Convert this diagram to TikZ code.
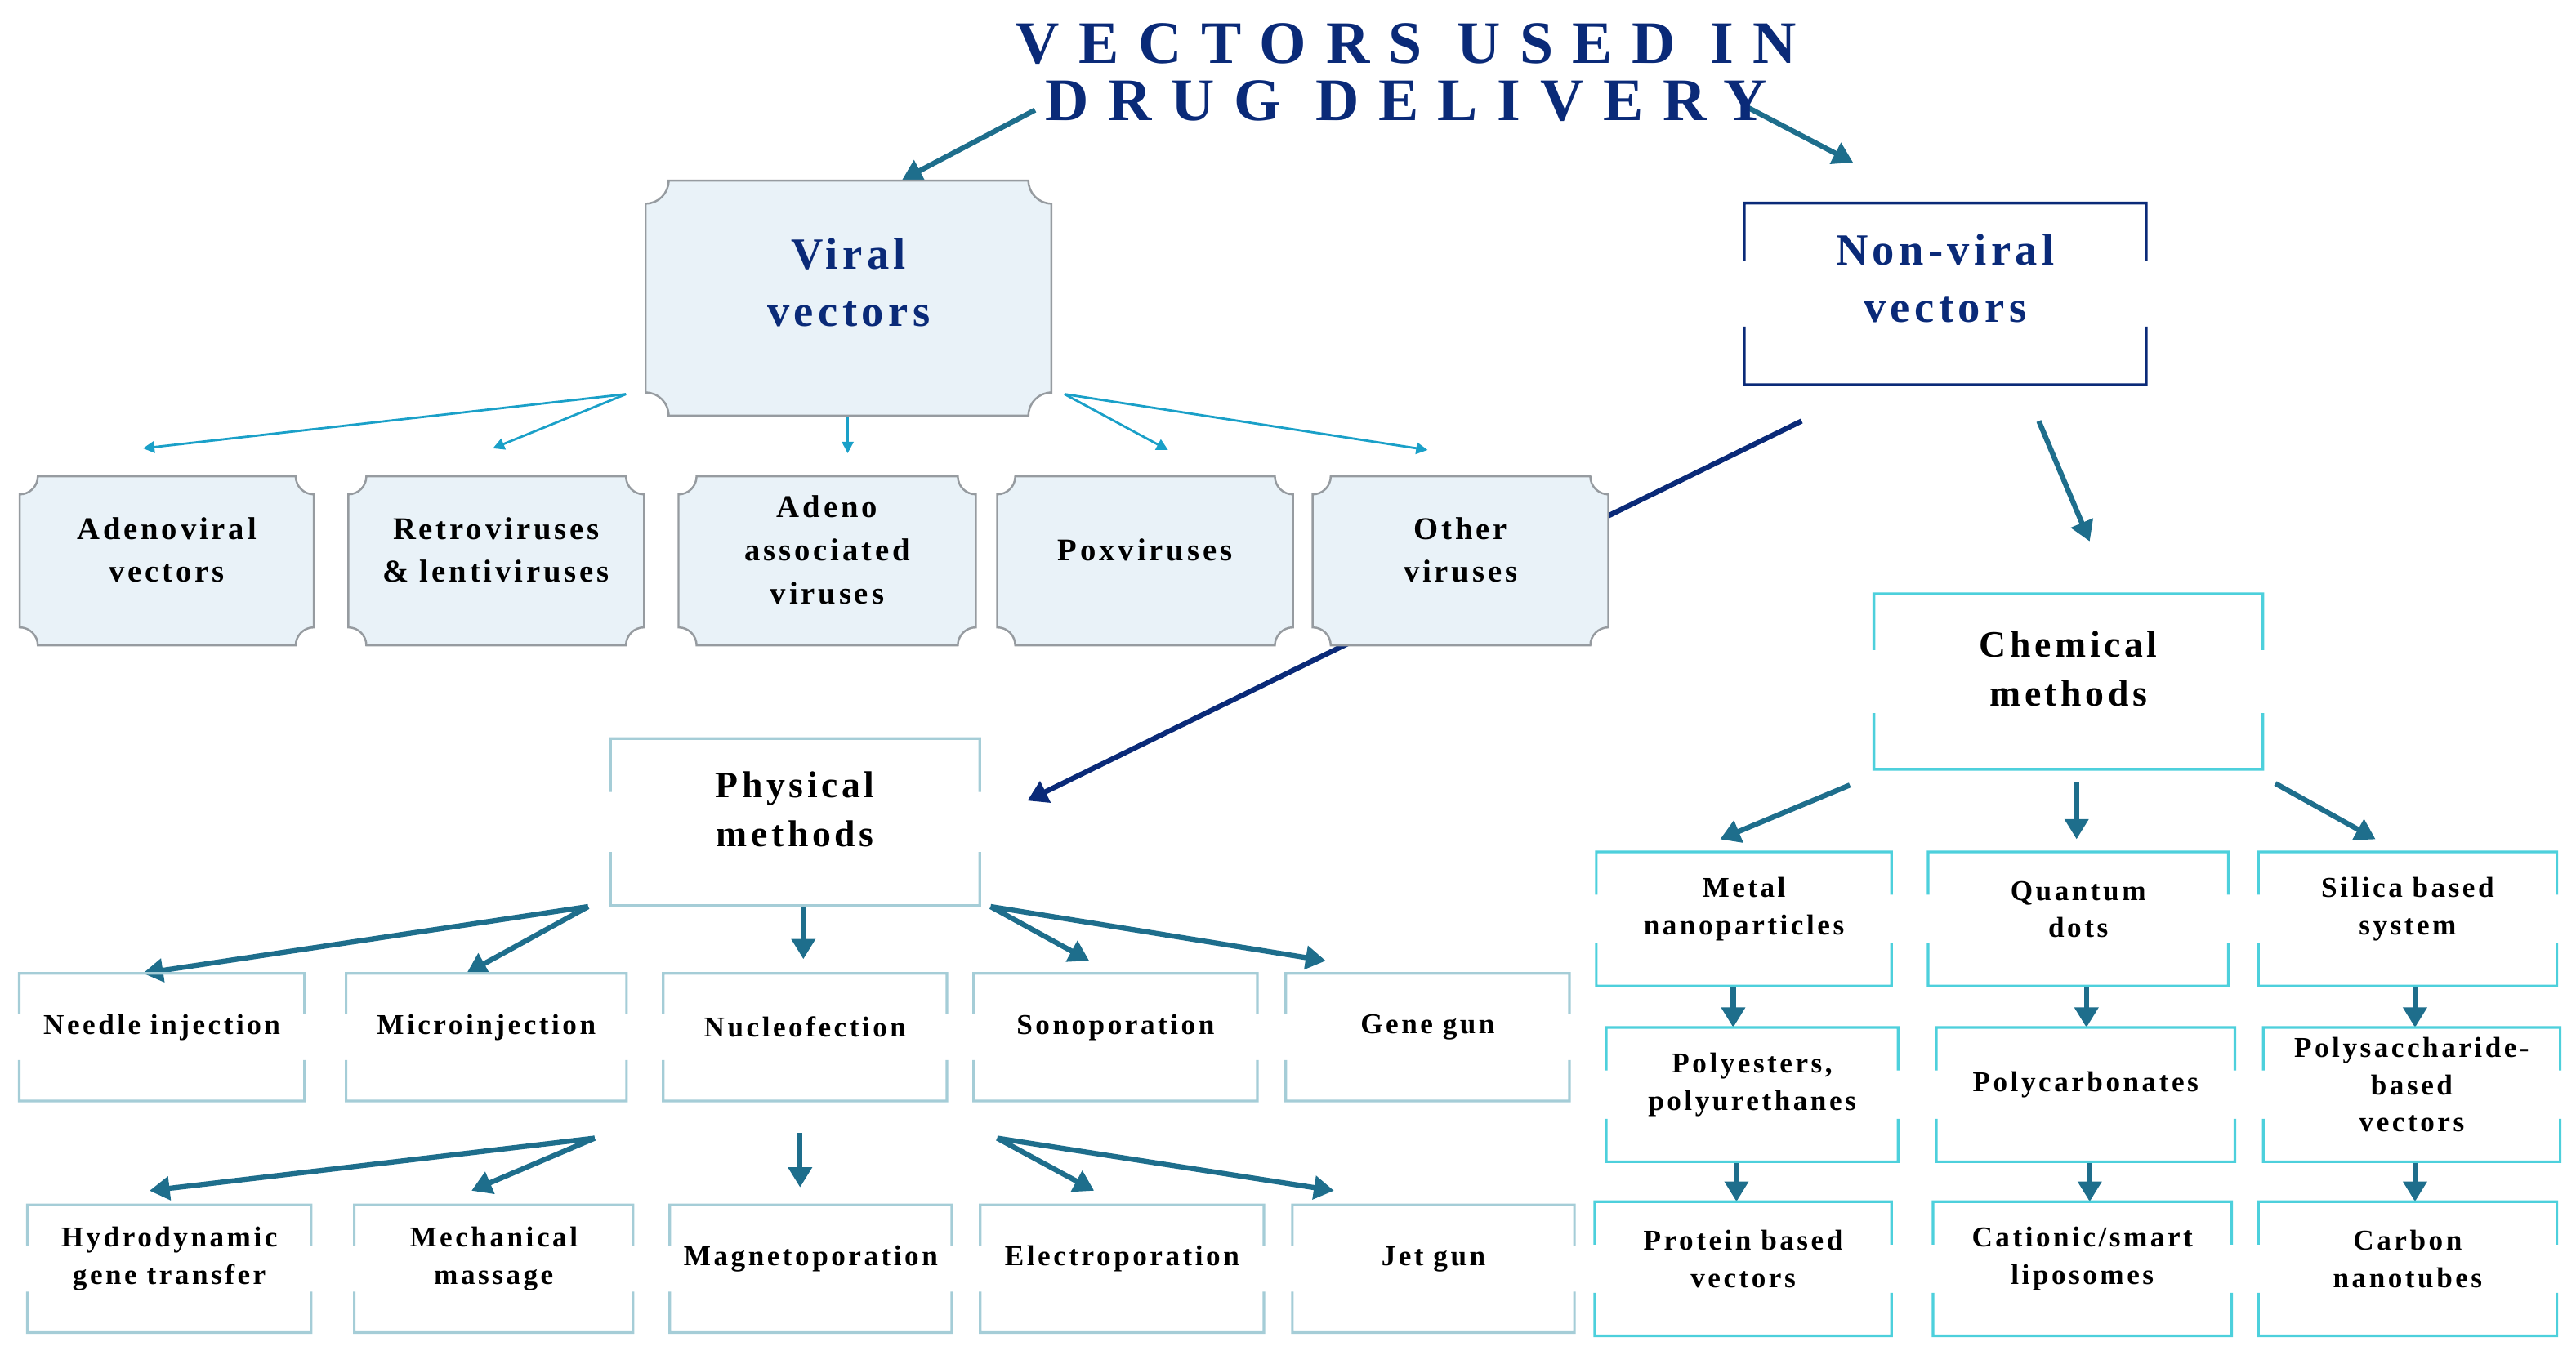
\documentclass[tikz,border=0pt]{standalone}
\usepackage{fontspec}
\setmainfont{Liberation Serif}[LetterSpace=10]
\newfontfamily\ttlfont{Liberation Serif}[LetterSpace=32]
\usetikzlibrary{arrows.meta,fit,calc,backgrounds}
\definecolor{navy}{RGB}{10,42,120}
\definecolor{teal}{RGB}{30,110,140}
\definecolor{vcyan}{RGB}{26,160,200}
\definecolor{vfill}{RGB}{233,242,248}
\definecolor{vgray}{RGB}{150,155,160}
\definecolor{pbord}{RGB}{165,205,215}
\definecolor{cbord}{RGB}{77,208,220}
\tikzset{
 bx/.style={inner sep=0pt,align=center,font=\bfseries\fontsize{10}{13}\selectfont},
 vx/.style={bx,text=navy,font=\bfseries\fontsize{11}{15}\selectfont},
 ta/.style={draw=teal,line width=1.8pt,-{Triangle[length=7pt,width=8pt]}},
 ca/.style={draw=vcyan,line width=0.8pt,-{Triangle[length=4pt,width=4pt]}},
 na/.style={draw=navy,line width=1.8pt,-{Triangle[length=7pt,width=8pt]}},
}
\newcommand\mkbox[7]{\coordinate (#1-a) at (#2,#3); \coordinate (#1-b) at (#4,#5);
 \node[fit=(#1-a)(#1-b),#6] (#1) {#7};}
\newcommand\gapb[2]{%
 \draw[#2] ($(#1.north west)!0.32!(#1.south west)$) |- (#1.north east) -- ($(#1.north east)!0.32!(#1.south east)$);
 \draw[#2] ($(#1.south west)!0.32!(#1.north west)$) |- (#1.south east) -- ($(#1.south east)!0.32!(#1.north east)$);}
\newcommand\notch[5]{%
 \filldraw[fill=vfill,draw=vgray,line width=0.7pt]
 ({#1+#5},#2) -- ({#3-#5},#2) .. controls ({#3-#5},{#2+0.55*#5}) and ({#3-0.55*#5},{#2+#5}) .. (#3,{#2+#5})
 -- (#3,{#4-#5}) .. controls ({#3-0.55*#5},{#4-#5}) and ({#3-#5},{#4-0.55*#5}) .. ({#3-#5},#4)
 -- ({#1+#5},#4) .. controls ({#1+#5},{#4-0.55*#5}) and ({#1+0.55*#5},{#4-#5}) .. (#1,{#4-#5})
 -- (#1,{#2+#5}) .. controls ({#1+0.55*#5},{#2+#5}) and ({#1+#5},{#2+0.55*#5}) .. cycle;}
\begin{document}
\begin{tikzpicture}[x=0.0201cm,y=-0.0201cm]
\useasboundingbox (0,0) rectangle (1568,825);
% title
\node[align=center,text=navy,font=\ttlfont\bfseries\fontsize{21}{20}\selectfont] (title) at (856,44) {VECTORS USED IN\\DRUG DELIVERY};
\coordinate (t1) at (630,67); \coordinate (t2) at (1063,65);
% viral
\mkbox{viral}{393}{110}{640}{253}{vx,font=\bfseries\fontsize{15.5}{20}\selectfont}{Viral\\vectors}
\mkbox{nonviral}{1062}{124}{1306}{234}{vx,font=\bfseries\fontsize{15.5}{20}\selectfont}{Non-viral\\vectors}
\gapb{nonviral}{draw=navy,line width=1pt}
\mkbox{adeno}{12}{290}{191}{393}{vx,text=black}{Adenoviral\\vectors}
\mkbox{retro}{212}{290}{392}{393}{vx,text=black}{Retroviruses\\\& lentiviruses}
\mkbox{aav}{413}{290}{594}{393}{vx,text=black}{Adeno\\associated\\viruses}
\mkbox{pox}{607}{290}{787}{393}{vx,text=black}{Poxviruses}
\mkbox{other}{799}{290}{979}{393}{vx,text=black}{Other\\viruses}
% physical
\mkbox{phys}{372}{450}{596}{551}{bx,font=\bfseries\fontsize{13}{17}\selectfont}{Physical\\methods}
\mkbox{chem}{1141}{362}{1377}{468}{bx,font=\bfseries\fontsize{13}{17}\selectfont}{Chemical\\methods}
\gapb{phys}{draw=pbord,line width=0.9pt}
\gapb{chem}{draw=cbord,line width=1pt}
\mkbox{needle}{12}{593}{185}{670}{bx}{Needle injection}
\mkbox{micro}{211}{593}{381}{670}{bx}{Microinjection}
\mkbox{nucleo}{404}{593}{576}{670}{bx}{Nucleofection}
\mkbox{sono}{593}{593}{765}{670}{bx}{Sonoporation}
\mkbox{gene}{783}{593}{955}{670}{bx}{Gene gun}
\mkbox{hydro}{17}{734}{189}{811}{bx}{Hydrodynamic\\gene transfer}
\mkbox{mech}{216}{734}{385}{811}{bx}{Mechanical\\massage}
\mkbox{magneto}{408}{734}{579}{811}{bx}{Magnetoporation}
\mkbox{electro}{597}{734}{769}{811}{bx}{Electroporation}
\mkbox{jet}{787}{734}{958}{811}{bx}{Jet gun}
\foreach \n in {needle,micro,nucleo,sono,gene,hydro,mech,magneto,electro,jet}{\gapb{\n}{draw=pbord,line width=0.9pt}}
\mkbox{metal}{972}{519}{1151}{600}{bx}{Metal\\nanoparticles}
\mkbox{quant}{1174}{519}{1356}{600}{bx}{Quantum\\dots}
\mkbox{silica}{1375}{519}{1556}{600}{bx}{Silica based\\system}
\mkbox{polyest}{978}{626}{1155}{707}{bx}{Polyesters,\\polyurethanes}
\mkbox{polycarb}{1179}{626}{1360}{707}{bx}{Polycarbonates}
\mkbox{polysac}{1378}{626}{1558}{707}{bx}{Polysaccharide-\\based\\vectors}
\mkbox{protein}{971}{732}{1151}{813}{bx}{Protein based\\vectors}
\mkbox{cation}{1177}{732}{1358}{813}{bx}{Cationic/smart\\liposomes}
\mkbox{carbon}{1375}{732}{1556}{813}{bx}{Carbon\\nanotubes}
\foreach \n in {metal,quant,silica,polyest,polycarb,polysac,protein,cation,carbon}{\gapb{\n}{draw=cbord,line width=0.9pt}}
\begin{scope}[on background layer]
% arrows
\draw[ta] (t1) -- (viral.north east -| 549,99);
\draw[ta] (t2) -- (1128,99);
\draw[na] ($(nonviral.south west)+(35,22)$) -- ($(phys.east)+(29,-13)$);
\draw[ta] ($(nonviral.south)+(57,22)$) -- ($(chem.north)+(13,-32)$);
\draw[ca] (381,240) -- (87,273); \draw[ca] (381,240) -- (300,273);
\draw[ca] (viral.south) ++(-0.5,-12) -- (516,276);
\draw[ca] (648,240) -- (711,274); \draw[ca] (648,240) -- (869,274);
\draw[ta] (358,552) -- (needle.north -| 87,584); \draw[ta] (358,552) -- (micro.north -| 284,584);
\draw[ta] (phys.south) ++(5,0) -- (489,584);
\draw[ta] (603,552) -- (663,585); \draw[ta] (603,552) -- (807,585);
\draw[ta] (362,693) -- (91,725); \draw[ta] (362,693) -- (287,725);
\draw[ta] (487,690) -- (487,723);
\draw[ta] (607,693) -- (666,725); \draw[ta] (607,693) -- (812,725);
\draw[ta] (1126,478) -- (1047,511); \draw[ta] (1264,476) -- (1264,511); \draw[ta] (1385,477) -- (1446,511);
\draw[ta] (metal.south -| 1055,604) -- (polyest.north -| 1055,624);
\draw[ta] (polyest.south -| 1057,710) -- (protein.north -| 1057,729);
\draw[ta] (quant.south -| 1270,604) -- (polycarb.north -| 1270,623);
\draw[ta] (polycarb.south -| 1272,709) -- (cation.north -| 1272,729);
\draw[ta] (silica.south -| 1470,603) -- (polysac.north -| 1470,623);
\draw[ta] (polysac.south -| 1470,710) -- (carbon.north -| 1470,729);
% notched boxes (cover the navy line)
\notch{393}{110}{640}{253}{14}
\notch{12}{290}{191}{393}{11}
\notch{212}{290}{392}{393}{11}
\notch{413}{290}{594}{393}{11}
\notch{607}{290}{787}{393}{11}
\notch{799}{290}{979}{393}{11}
\end{scope}
\end{tikzpicture}
\end{document}
